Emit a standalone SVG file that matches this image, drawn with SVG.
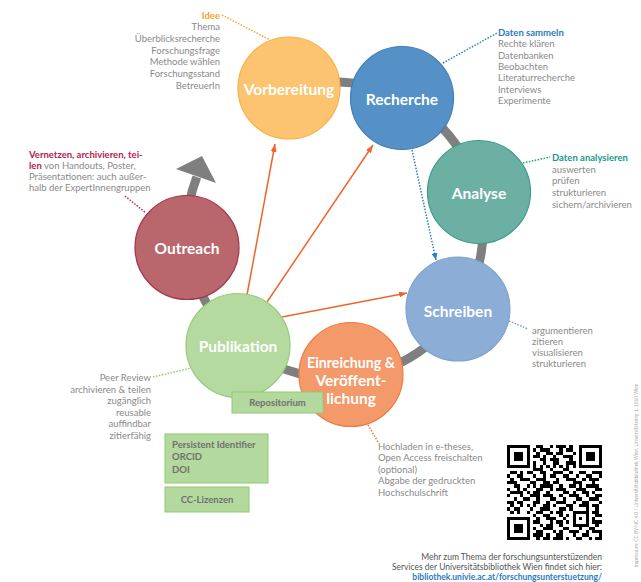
<svg xmlns="http://www.w3.org/2000/svg" width="641" height="582" viewBox="0 0 641 582">
<defs>
<style>
.lbl{font-family:Lato,"Liberation Sans",sans-serif;font-weight:700;font-size:15.5px;fill:#fff;text-anchor:middle}
.t{font-family:Lato,"Liberation Sans",sans-serif;font-size:9.5px;fill:#8a8a8a}
.e{text-anchor:end}
.b{font-weight:700}
.lead{fill:none;stroke-width:1.5;stroke-dasharray:1.5 1.5}
.box{fill:#b4d99e;stroke:#8fca70;stroke-width:1}
.bt{font-family:Lato,"Liberation Sans",sans-serif;font-size:9.5px;font-weight:700;fill:#707070}
.oa{fill:none;stroke:#f0642c;stroke-width:1.5}
</style>
<marker id="ao" markerUnits="userSpaceOnUse" markerWidth="8" markerHeight="6" viewBox="0 0 8 6" refX="8" refY="3" orient="auto"><path d="M0,0L8,3L0,6z" fill="#f0642c"/></marker>
<marker id="ab" markerUnits="userSpaceOnUse" markerWidth="7" markerHeight="6" viewBox="0 0 7 6" refX="7" refY="3" orient="auto"><path d="M0,0L7,3L0,6z" fill="#2f7fc0"/></marker>
</defs>
<rect width="641" height="582" fill="#fff"/>

<g id="connectors">
<path d="M289.3 89.2A148 148 0 1 1 196.8 177" fill="none" stroke="#7f7f7f" stroke-width="9"/>
<polygon points="176,169 202,156 216,183" fill="#7f7f7f"/>
<line class="oa" x1="247" y1="295" x2="275" y2="144" marker-end="url(#ao)"/>
<line class="oa" x1="267" y1="302" x2="373" y2="145" marker-end="url(#ao)"/>
<line class="oa" x1="282" y1="317" x2="407" y2="293" marker-end="url(#ao)"/>
<line x1="412" y1="150" x2="436" y2="260" stroke="#2f7fc0" stroke-width="1.5" stroke-dasharray="1.5 1.5" marker-end="url(#ab)"/>
<line class="lead" x1="222" y1="15" x2="270" y2="40" stroke="#f5a733"/>
<line class="lead" x1="443" y1="63" x2="497" y2="33" stroke="#2f7fc0"/>
<line class="lead" x1="523" y1="163" x2="550" y2="157" stroke="#1f9a86"/>
<line class="lead" x1="125" y1="196" x2="146" y2="213" stroke="#b2294f"/>
<line class="lead" x1="153" y1="377" x2="191" y2="368" stroke="#8ccb6a"/>
<line class="lead" x1="509" y1="321" x2="528" y2="329" stroke="#6e9bd0"/>
<line class="lead" x1="368" y1="425" x2="378" y2="442" stroke="#ee6d35"/>
</g>

<g id="vorbereitung">
<circle cx="289" cy="88" r="51" fill="#fcc470" stroke="#f8b144" stroke-width="1.2"/>
<text class="lbl" x="289" y="95">Vorbereitung</text>
</g>
<g id="recherche">
<circle cx="402" cy="98" r="51.5" fill="#5591c7" stroke="#3f7db8" stroke-width="1.2"/>
<text class="lbl" x="402" y="105">Recherche</text>
</g>
<g id="analyse">
<circle cx="479" cy="192" r="51.5" fill="#6cb0a4" stroke="#3a9c8a" stroke-width="1.2"/>
<text class="lbl" x="479" y="199">Analyse</text>
</g>
<g id="schreiben">
<circle cx="458" cy="309" r="52" fill="#8badd6" stroke="#7fa2cf" stroke-width="1.2"/>
<text class="lbl" x="458" y="317">Schreiben</text>
</g>
<g id="einreichung">
<circle cx="351" cy="374.5" r="52" fill="#f4996a" stroke="#ee7b43" stroke-width="1.2"/>
<text class="lbl" x="351" y="368" textLength="88" lengthAdjust="spacingAndGlyphs">Einreichung &amp;</text>
<text class="lbl" x="351" y="386">Veröffent-</text>
<text class="lbl" x="351" y="404">lichung</text>
</g>
<g id="publikation">
<circle cx="238" cy="345.5" r="52" fill="#b5da9f" stroke="#95cc78" stroke-width="1.2"/>
<text class="lbl" x="238" y="352">Publikation</text>
</g>
<g id="outreach">
<circle cx="187" cy="247.5" r="52" fill="#b9666d" stroke="#a6334f" stroke-width="1.2"/>
<text class="lbl" x="187" y="254">Outreach</text>
</g>

<g id="repositorium">
<rect class="box" x="232" y="392" width="91" height="21"/>
<text class="bt" x="277.5" y="406" text-anchor="middle">Repositorium</text>
</g>
<g id="identifier">
<rect class="box" x="165" y="434" width="103" height="49"/>
<text class="bt" x="172" y="448">Persistent Identifier</text>
<text class="bt" x="172" y="460">ORCID</text>
<text class="bt" x="172" y="473">DOI</text>
</g>
<g id="lizenzen">
<rect class="box" x="165" y="487" width="84" height="25"/>
<text class="bt" x="207" y="503" text-anchor="middle">CC-Lizenzen</text>
</g>

<g id="idee-text">
<text class="t e b" x="220" y="18.5" style="fill:#f5a32a">Idee</text>
<text class="t e" x="220" y="30">Thema</text>
<text class="t e" x="220" y="42">Überblicksrecherche</text>
<text class="t e" x="220" y="53.5">Forschungsfrage</text>
<text class="t e" x="220" y="65">Methode wählen</text>
<text class="t e" x="220" y="77">Forschungsstand</text>
<text class="t e" x="220" y="88.5">BetreuerIn</text>
</g>
<g id="sammeln-text">
<text class="t b" x="498" y="36" style="fill:#2b7bbd">Daten sammeln</text>
<text class="t" x="498" y="47.3">Rechte klären</text>
<text class="t" x="498" y="58.6">Datenbanken</text>
<text class="t" x="498" y="70">Beobachten</text>
<text class="t" x="498" y="81.3">Literaturrecherche</text>
<text class="t" x="498" y="92.6">Interviews</text>
<text class="t" x="498" y="104">Experimente</text>
</g>
<g id="analysieren-text">
<text class="t b" x="552" y="161" style="fill:#19998a">Daten analysieren</text>
<text class="t" x="552" y="172.6">auswerten</text>
<text class="t" x="552" y="184.3">prüfen</text>
<text class="t" x="552" y="196">strukturieren</text>
<text class="t" x="552" y="207.6">sichern/archivieren</text>
</g>
<g id="outreach-text">
<text class="t b" x="29" y="158" style="fill:#b1234e">Vernetzen, archivieren, tei-</text>
<text class="t" x="29" y="169"><tspan class="b" style="fill:#b1234e">len</tspan> von Handouts, Poster,</text>
<text class="t" x="29" y="180.3">Präsentationen: auch außer-</text>
<text class="t" x="29" y="191.4">halb der ExpertInnengruppen</text>
</g>
<g id="publikation-text">
<text class="t e" x="151" y="381">Peer Review</text>
<text class="t e" x="151" y="392.5">archivieren &amp; teilen</text>
<text class="t e" x="151" y="404">zugänglich</text>
<text class="t e" x="151" y="415.5">reusable</text>
<text class="t e" x="151" y="427">auffindbar</text>
<text class="t e" x="151" y="438.5">zitierfähig</text>
</g>
<g id="schreiben-text">
<text class="t" x="532" y="333.5">argumentieren</text>
<text class="t" x="532" y="344.5">zitieren</text>
<text class="t" x="532" y="355.5">visualisieren</text>
<text class="t" x="532" y="366.5">strukturieren</text>
</g>
<g id="einreichung-text">
<text class="t" x="378" y="449.5">Hochladen in e-theses,</text>
<text class="t" x="378" y="461">Open Access freischalten</text>
<text class="t" x="378" y="472.5">(optional)</text>
<text class="t" x="378" y="484">Abgabe der gedruckten</text>
<text class="t" x="378" y="495.5">Hochschulschrift</text>
</g>

<g id="qr">
<path transform="translate(507 445) scale(3.276)" shape-rendering="crispEdges" fill="#000" d="M0 0h7v1h-7zM9 0h2v1h-2zM13 0h1v1h-1zM15 0h3v1h-3zM19 0h1v1h-1zM22 0h7v1h-7z
M0 1h1v1h-1zM6 1h1v1h-1zM8 1h1v1h-1zM10 1h3v1h-3zM16 1h1v1h-1zM18 1h2v1h-2zM22 1h1v1h-1zM28 1h1v1h-1z
M0 2h1v1h-1zM2 2h3v1h-3zM6 2h1v1h-1zM9 2h1v1h-1zM12 2h2v1h-2zM15 2h2v1h-2zM20 2h1v1h-1zM22 2h1v1h-1zM24 2h3v1h-3zM28 2h1v1h-1z
M0 3h1v1h-1zM2 3h3v1h-3zM6 3h1v1h-1zM8 3h2v1h-2zM11 3h1v1h-1zM14 3h1v1h-1zM17 3h3v1h-3zM22 3h1v1h-1zM24 3h3v1h-3zM28 3h1v1h-1z
M0 4h1v1h-1zM2 4h3v1h-3zM6 4h1v1h-1zM10 4h2v1h-2zM13 4h3v1h-3zM19 4h1v1h-1zM22 4h1v1h-1zM24 4h3v1h-3zM28 4h1v1h-1z
M0 5h1v1h-1zM6 5h1v1h-1zM8 5h1v1h-1zM11 5h1v1h-1zM14 5h2v1h-2zM18 5h3v1h-3zM22 5h1v1h-1zM28 5h1v1h-1z
M0 6h7v1h-7zM8 6h1v1h-1zM10 6h1v1h-1zM12 6h1v1h-1zM14 6h1v1h-1zM16 6h1v1h-1zM18 6h1v1h-1zM20 6h1v1h-1zM22 6h7v1h-7z
M8 7h3v1h-3zM13 7h1v1h-1zM17 7h2v1h-2z
M1 8h2v1h-2zM4 8h1v1h-1zM6 8h2v1h-2zM10 8h2v1h-2zM14 8h3v1h-3zM19 8h1v1h-1zM22 8h2v1h-2zM26 8h3v1h-3z
M0 9h1v1h-1zM3 9h2v1h-2zM8 9h1v1h-1zM11 9h1v1h-1zM13 9h2v1h-2zM17 9h2v1h-2zM21 9h1v1h-1zM24 9h2v1h-2zM28 9h1v1h-1z
M1 10h1v1h-1zM4 10h3v1h-3zM9 10h3v1h-3zM15 10h1v1h-1zM18 10h3v1h-3zM23 10h1v1h-1zM25 10h3v1h-3z
M0 11h3v1h-3zM7 11h2v1h-2zM11 11h2v1h-2zM14 11h2v1h-2zM20 11h3v1h-3zM26 11h1v1h-1z
M2 12h2v1h-2zM6 12h1v1h-1zM8 12h1v1h-1zM10 12h4v1h-4zM16 12h1v1h-1zM19 12h2v1h-2zM22 12h1v1h-1zM24 12h4v1h-4z
M0 13h1v1h-1zM3 13h1v1h-1zM5 13h1v1h-1zM9 13h2v1h-2zM13 13h1v1h-1zM15 13h3v1h-3zM21 13h3v1h-3zM27 13h2v1h-2z
M1 14h4v1h-4zM6 14h1v1h-1zM8 14h2v1h-2zM12 14h1v1h-1zM17 14h2v1h-2zM20 14h1v1h-1zM23 14h2v1h-2zM26 14h1v1h-1z
M0 15h1v1h-1zM4 15h1v1h-1zM7 15h3v1h-3zM11 15h3v1h-3zM16 15h1v1h-1zM19 15h3v1h-3zM24 15h1v1h-1zM27 15h2v1h-2z
M2 16h1v1h-1zM5 16h2v1h-2zM9 16h1v1h-1zM13 16h2v1h-2zM17 16h1v1h-1zM21 16h2v1h-2zM25 16h3v1h-3z
M0 17h2v1h-2zM3 17h2v1h-2zM8 17h2v1h-2zM12 17h1v1h-1zM15 17h3v1h-3zM20 17h1v1h-1zM23 17h2v1h-2zM28 17h1v1h-1z
M1 18h1v1h-1zM4 18h1v1h-1zM6 18h1v1h-1zM8 18h1v1h-1zM11 18h2v1h-2zM14 18h1v1h-1zM18 18h2v1h-2zM22 18h3v1h-3zM26 18h2v1h-2z
M0 19h1v1h-1zM2 19h2v1h-2zM7 19h1v1h-1zM10 19h3v1h-3zM16 19h2v1h-2zM19 19h1v1h-1zM24 19h1v1h-1zM27 19h1v1h-1z
M1 20h1v1h-1zM3 20h1v1h-1zM6 20h1v1h-1zM9 20h2v1h-2zM13 20h1v1h-1zM15 20h2v1h-2zM20 20h5v1h-5zM26 20h2v1h-2z
M8 21h1v1h-1zM11 21h2v1h-2zM16 21h1v1h-1zM18 21h1v1h-1zM20 21h1v1h-1zM24 21h1v1h-1zM27 21h2v1h-2z
M0 22h7v1h-7zM9 22h1v1h-1zM12 22h3v1h-3zM17 22h1v1h-1zM20 22h1v1h-1zM22 22h1v1h-1zM24 22h1v1h-1zM26 22h1v1h-1z
M0 23h1v1h-1zM6 23h1v1h-1zM8 23h2v1h-2zM13 23h1v1h-1zM15 23h2v1h-2zM18 23h1v1h-1zM20 23h1v1h-1zM24 23h1v1h-1zM26 23h3v1h-3z
M0 24h1v1h-1zM2 24h3v1h-3zM6 24h1v1h-1zM10 24h1v1h-1zM12 24h2v1h-2zM16 24h1v1h-1zM20 24h5v1h-5zM27 24h1v1h-1z
M0 25h1v1h-1zM2 25h3v1h-3zM6 25h1v1h-1zM8 25h1v1h-1zM11 25h3v1h-3zM17 25h2v1h-2zM22 25h1v1h-1zM25 25h2v1h-2z
M0 26h1v1h-1zM2 26h3v1h-3zM6 26h1v1h-1zM9 26h2v1h-2zM14 26h1v1h-1zM16 26h1v1h-1zM19 26h3v1h-3zM24 26h1v1h-1zM26 26h3v1h-3z
M0 27h1v1h-1zM6 27h1v1h-1zM8 27h3v1h-3zM12 27h1v1h-1zM15 27h2v1h-2zM20 27h1v1h-1zM23 27h2v1h-2zM28 27h1v1h-1z
M0 28h7v1h-7zM9 28h1v1h-1zM11 28h2v1h-2zM14 28h3v1h-3zM18 28h1v1h-1zM21 28h2v1h-2zM25 28h1v1h-1zM27 28h2v1h-2z"/>
</g>

<g id="footer">
<text class="t e" x="602" y="560" style="fill:#555;font-size:8.5px">Mehr zum Thema der forschungsunterstüzenden</text>
<text class="t e" x="602" y="570" style="fill:#555;font-size:8.5px">Services der Universitätsbibliothek Wien findet sich hier:</text>
<text class="t e b" x="602" y="580" style="fill:#2a7cbf;font-size:8.5px">bibliothek.univie.ac.at/forschungsunterstuetzung/</text>
<text transform="translate(638 567) rotate(-90)" style="font-family:Lato,'Liberation Sans',sans-serif;font-size:4.8px;fill:#aaa">Impressum: CC BY-NC 4.0 / Universitätsbibliothek Wien, Universitätsring 1, 1010 Wien</text>
</g>
</svg>
